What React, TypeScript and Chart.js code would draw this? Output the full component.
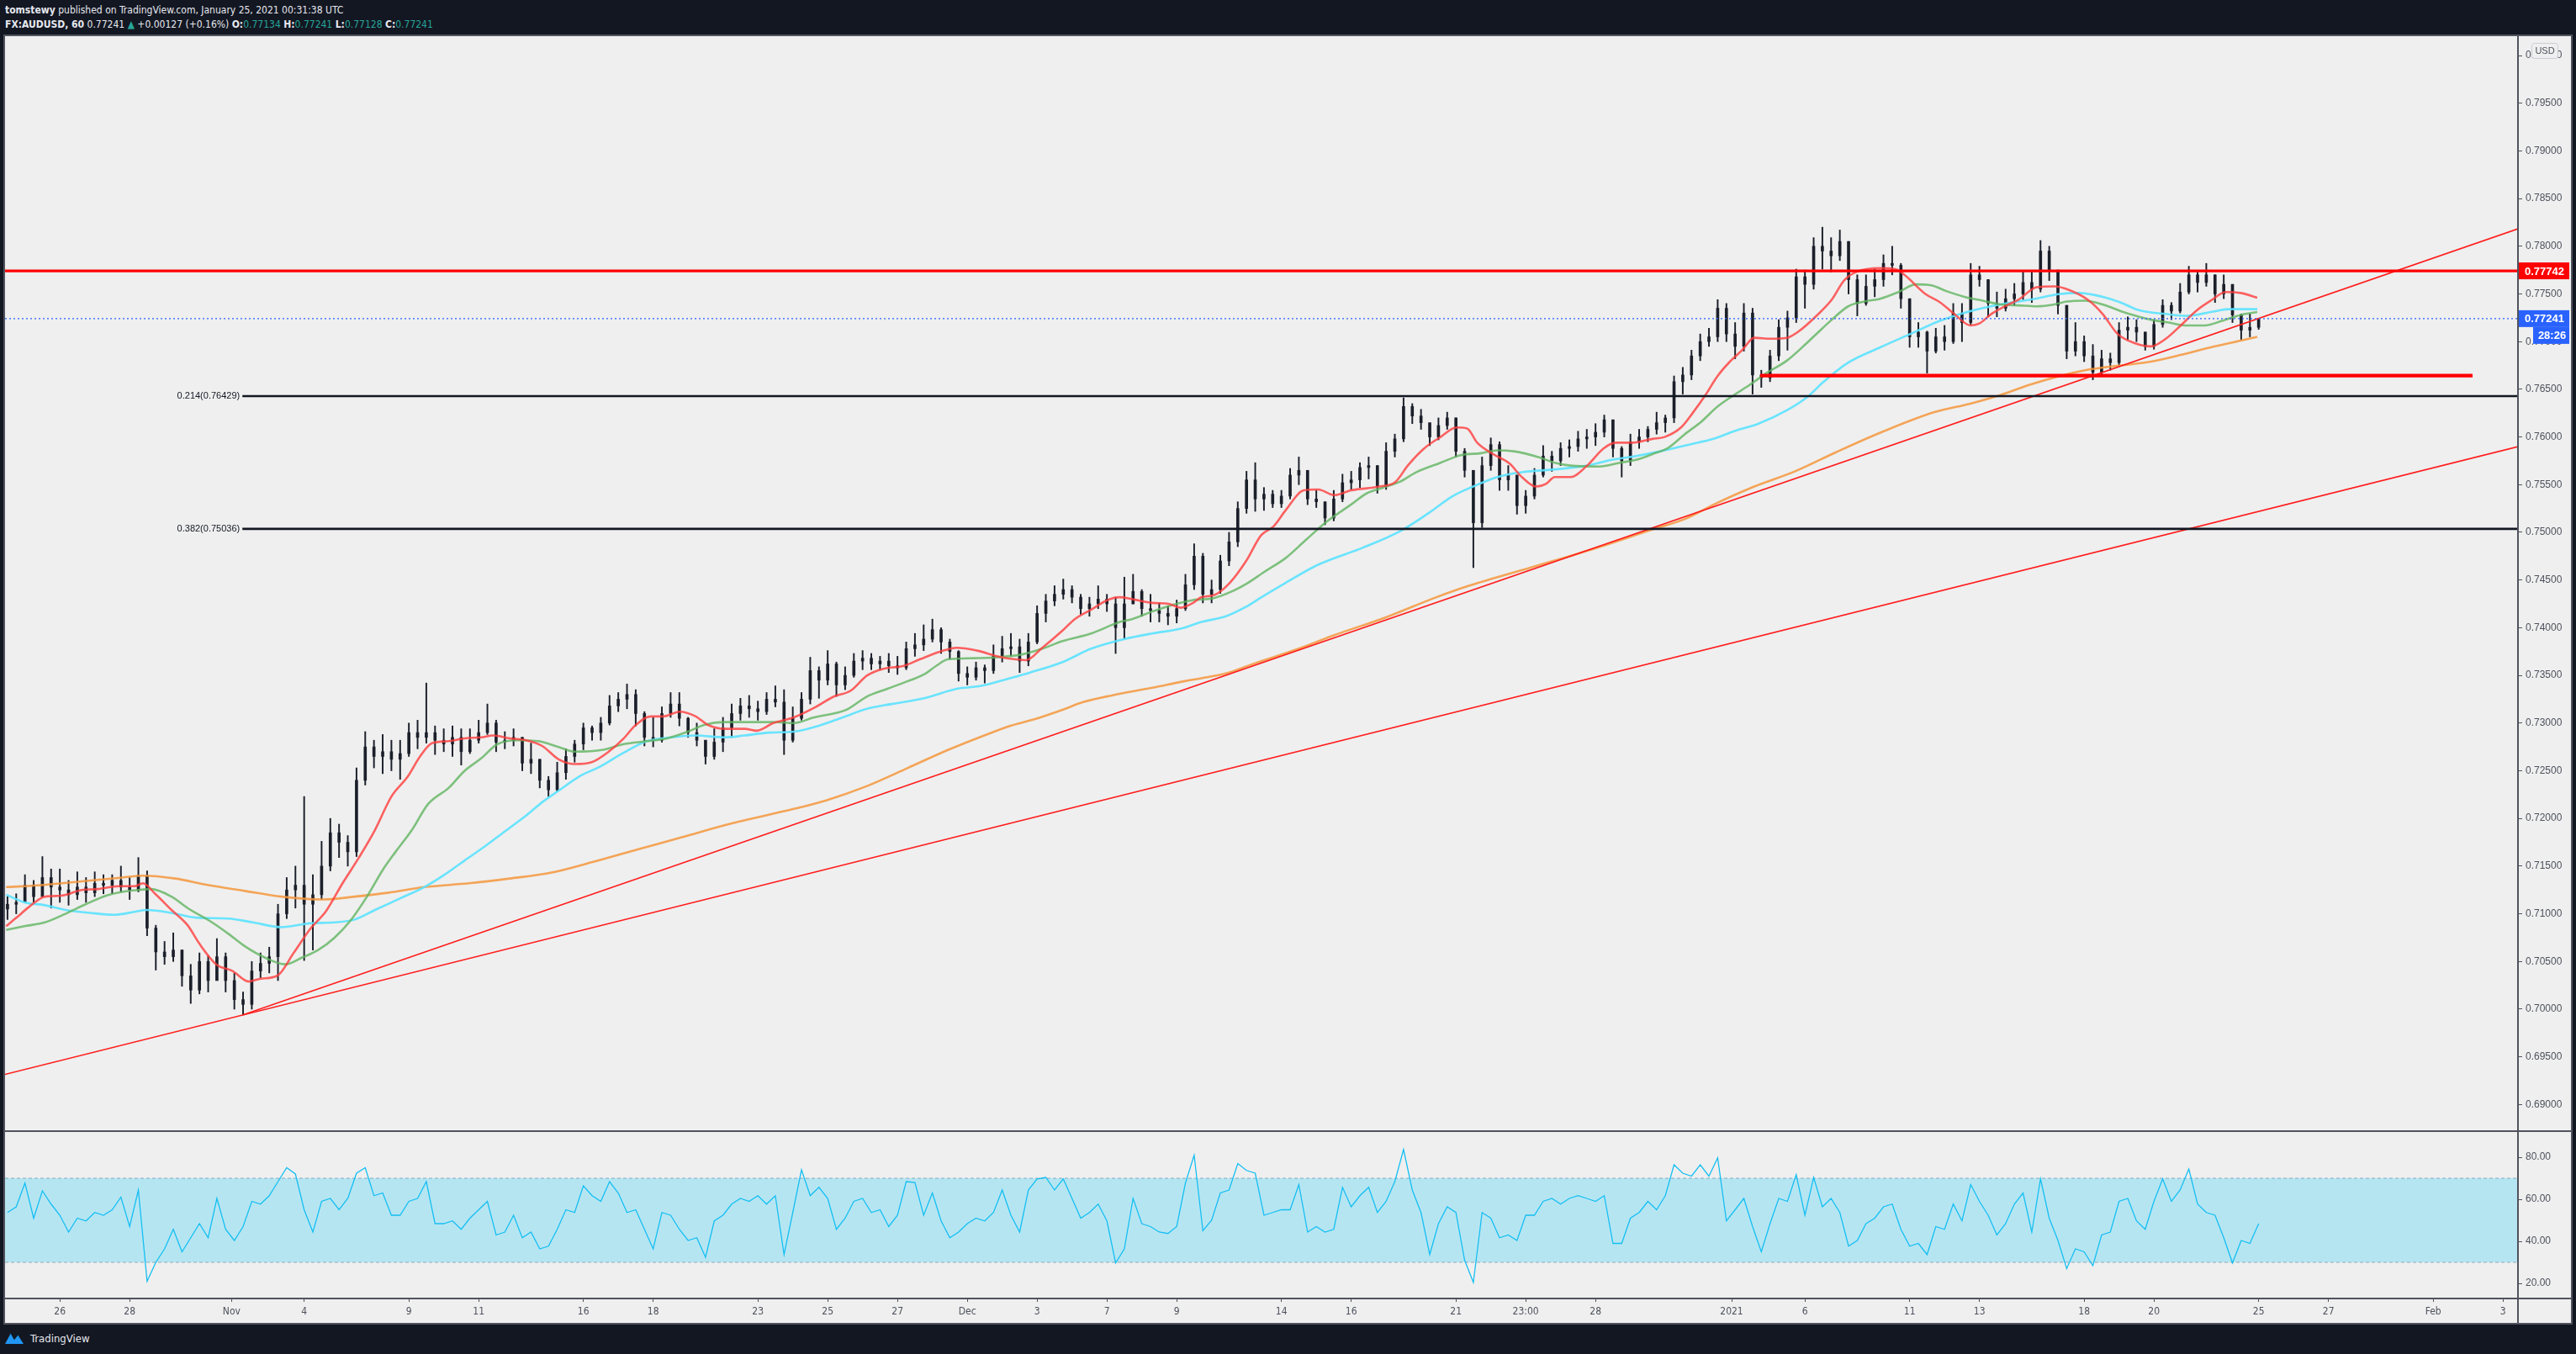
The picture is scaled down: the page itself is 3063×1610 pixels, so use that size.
import React, { useEffect, useRef } from "react";
import { Chart, registerables } from "chart.js";

Chart.register(...registerables);

// ---------- axis ranges (x in trading days from Mon 26 Oct 2020) ----------
const X_MIN = -1.57;
const X_MAX = 70.43;
const PRICE_MIN = 0.68721;
const PRICE_MAX = 0.80203;
const RSI_MIN = 12.8;
const RSI_MAX = 92.4;

// ---------- candles (6h bars) ----------
const BAR_START = -1.5;
const BAR_STEP = 0.25;
const FIRST_OPEN = 0.7105;

const BAR_HIGH = [
  .7118, .7121,
  .7141, .7135, .7160, .7147,
  .7147, .7135, .7144, .7138,
  .7144, .7141, .7141, .7150,
  .7138, .7159, .7145, .7088,
  .7071, .7080, .7062, .7047,
  .7059, .7056, .7074, .7059,
  .7038, .7018, .7050, .7059,
  .7065, .7110, .7138, .7150,
  .7223, .7141, .7176, .7200,
  .7194, .7182, .7253, .7291,
  .7282, .7288, .7282, .7282,
  .7300, .7303, .7342, .7297,
  .7294, .7297, .7294, .7294,
  .7303, .7320, .7303, .7291,
  .7294, .7285, .7279, .7262,
  .7244, .7259, .7273, .7282,
  .7300, .7297, .7306, .7329,
  .7332, .7341, .7335, .7312,
  .7306, .7317, .7332, .7332,
  .7306, .7300, .7282, .7294,
  .7306, .7320, .7326, .7329,
  .7323, .7332, .7339, .7335,
  .7317, .7332, .7369, .7359,
  .7376, .7364, .7359, .7373,
  .7376, .7373, .7370, .7373,
  .7370, .7385, .7394, .7403,
  .7409, .7400, .7388, .7376,
  .7359, .7364, .7361, .7382,
  .7391, .7394, .7388, .7394,
  .7423, .7435, .7444, .7451,
  .7444, .7435, .7432, .7444,
  .7435, .7432, .7453, .7456,
  .7440, .7435, .7426, .7423,
  .7429, .7456, .7488, .7478,
  .7450, .7476, .7500, .7532,
  .7564, .7573, .7547, .7544,
  .7544, .7567, .7579, .7565,
  .7544, .7532, .7544, .7561,
  .7564, .7573, .7579, .7570,
  .7594, .7603, .7641, .7635,
  .7629, .7614, .7620, .7626,
  .7620, .7588, .7565, .7579,
  .7599, .7595, .7570, .7560,
  .7544, .7567, .7591, .7585,
  .7594, .7597, .7606, .7608,
  .7614, .7623, .7618, .7590,
  .7603, .7608, .7611, .7626,
  .7623, .7664, .7673, .7691,
  .7708, .7714, .7744, .7740,
  .7720, .7740, .7735, .7670,
  .7691, .7723, .7732, .7776,
  .7775, .7809, .7820, .7809,
  .7817, .7805, .7770, .7770,
  .7776, .7791, .7800, .7782,
  .7745, .7720, .7711, .7714,
  .7717, .7740, .7740, .7782,
  .7779, .7765, .7752, .7755,
  .7761, .7773, .7773, .7806,
  .7800, .7775, .7738, .7720,
  .7706, .7697, .7691, .7688,
  .7720, .7726, .7723, .7710,
  .7723, .7744, .7741, .7761,
  .7779, .7773, .7782, .7770,
  .7770, .7760, .7729, .7729,
  .77241,
];

const BAR_LOW = [
  .7094, .7100,
  .7112, .7112, .7118, .7106,
  .7112, .7109, .7115, .7112,
  .7118, .7121, .7121, .7123,
  .7115, .7123, .7077, .7041,
  .7047, .7050, .7024, .7006,
  .7016, .7018, .7033, .7018,
  .7000, .6994, .7000, .7033,
  .7038, .7030, .7095, .7106,
  .7051, .7062, .7115, .7145,
  .7159, .7150, .7160, .7235,
  .7253, .7247, .7250, .7241,
  .7265, .7273, .7279, .7267,
  .7270, .7265, .7256, .7268,
  .7279, .7288, .7270, .7273,
  .7276, .7250, .7247, .7232,
  .7223, .7228, .7241, .7259,
  .7272, .7282, .7282, .7298,
  .7312, .7315, .7297, .7276,
  .7275, .7280, .7306, .7297,
  .7285, .7276, .7257, .7262,
  .7270, .7285, .7303, .7306,
  .7303, .7309, .7317, .7267,
  .7280, .7303, .7320, .7326,
  .7340, .7328, .7335, .7348,
  .7356, .7356, .7356, .7353,
  .7351, .7356, .7370, .7376,
  .7385, .7373, .7367, .7344,
  .7340, .7345, .7342, .7352,
  .7364, .7370, .7353, .7360,
  .7383, .7406, .7423, .7430,
  .7426, .7414, .7412, .7420,
  .7417, .7373, .7388, .7425,
  .7412, .7406, .7406, .7403,
  .7405, .7418, .7440, .7426,
  .7426, .7436, .7465, .7485,
  .7520, .7522, .7523, .7526,
  .7526, .7535, .7550, .7529,
  .7526, .7508, .7512, .7532,
  .7545, .7547, .7556, .7541,
  .7545, .7579, .7595, .7614,
  .7608, .7591, .7597, .7608,
  .7579, .7558, .7463, .7505,
  .7565, .7544, .7544, .7519,
  .7520, .7535, .7558, .7564,
  .7570, .7579, .7585, .7588,
  .7591, .7600, .7579, .7558,
  .7570, .7588, .7595, .7603,
  .7605, .7615, .7645, .7660,
  .7680, .7695, .7700, .7700,
  .7682, .7690, .7645, .7652,
  .7658, .7680, .7691, .7720,
  .7735, .7755, .7776, .7773,
  .7785, .7750, .7727, .7738,
  .7747, .7758, .7770, .7735,
  .7694, .7694, .7667, .7688,
  .7691, .7698, .7700, .7718,
  .7758, .7726, .7726, .7732,
  .7738, .7744, .7741, .7752,
  .7764, .7729, .7682, .7685,
  .7679, .7660, .7665, .7670,
  .7675, .7702, .7700, .7691,
  .7692, .7715, .7723, .7730,
  .7750, .7752, .7758, .7741,
  .7745, .7720, .7702, .7705,
  .77128,
];

const BAR_CLOSE = [
  .7110, .7112,
  .7130, .7118, .7138, .7128,
  .7125, .7120, .7128, .7122,
  .7132, .7130, .7135, .7128,
  .7125, .7140, .7085, .7060,
  .7055, .7062, .7035, .7020,
  .7050, .7030, .7055, .7030,
  .7010, .7005, .7040, .7048,
  .7055, .7100, .7125, .7130,
  .7110, .7120, .7150, .7185,
  .7175, .7165, .7240, .7275,
  .7265, .7270, .7262, .7268,
  .7290, .7285, .7290, .7282,
  .7278, .7285, .7270, .7282,
  .7290, .7300, .7280, .7282,
  .7285, .7258, .7262, .7240,
  .7230, .7248, .7265, .7278,
  .7295, .7290, .7300, .7318,
  .7325, .7330, .7310, .7285,
  .7282, .7310, .7320, .7305,
  .7290, .7282, .7265, .7280,
  .7295, .7310, .7318, .7315,
  .7312, .7325, .7322, .7282,
  .7305, .7325, .7355, .7345,
  .7362, .7340, .7350, .7365,
  .7368, .7362, .7365, .7360,
  .7358, .7378, .7382, .7388,
  .7398, .7385, .7375, .7352,
  .7348, .7358, .7355, .7370,
  .7378, .7380, .7365, .7385,
  .7415, .7428, .7435, .7440,
  .7432, .7420, .7425, .7430,
  .7425, .7400, .7425, .7438,
  .7420, .7418, .7415, .7412,
  .7420, .7445, .7475, .7435,
  .7440, .7470, .7490, .7525,
  .7555, .7535, .7540, .7530,
  .7538, .7560, .7565, .7535,
  .7532, .7515, .7535, .7552,
  .7555, .7568, .7570, .7548,
  .7585, .7598, .7632, .7622,
  .7615, .7600, .7612, .7620,
  .7585, .7565, .7510, .7570,
  .7592, .7555, .7560, .7528,
  .7538, .7560, .7580, .7575,
  .7588, .7590, .7598, .7600,
  .7605, .7618, .7588, .7575,
  .7595, .7600, .7608, .7615,
  .7620, .7658, .7665, .7685,
  .7700, .7705, .7735, .7708,
  .7695, .7730, .7665, .7662,
  .7685, .7715, .7725, .7768,
  .7760, .7800, .7795, .7790,
  .7805, .7765, .7740, .7758,
  .7765, .7782, .7780, .7745,
  .7705, .7710, .7690, .7705,
  .7700, .7730, .7720, .7770,
  .7765, .7740, .7735, .7745,
  .7750, .7762, .7755, .7795,
  .7775, .7738, .7690, .7700,
  .7685, .7668, .7682, .7678,
  .7712, .7715, .7710, .7695,
  .7718, .7738, .7732, .7752,
  .7770, .7762, .7770, .7750,
  .7760, .7728, .7712, .7715,
  .77241,
];

// ---------- RSI (same 6h bars) ----------
const RSI_VALUES = [
  53.7, 56.4,
  67.7, 51, 64, 57.7,
  52.4, 44.4, 51, 49.7,
  53.7, 52.4, 55, 61,
  47, 64.4, 21, 30,
  36.4, 45.7, 35, 41.7,
  48.4, 41.7, 60.4, 45.7,
  40.4, 47, 59, 57.7,
  61.7, 68.4, 75, 72,
  55, 44.4, 59, 60.4,
  55, 60.4, 72.4, 75,
  61.7, 63, 52.4, 52.4,
  59, 60.4, 68.4, 48.4,
  48.4, 49.7, 45.7, 51,
  55, 59, 43, 44.4,
  52.4, 41.7, 44.4, 36.4,
  37.7, 45.7, 55, 53.7,
  66.4, 61.7, 59, 68.4,
  63, 53.7, 55, 45.7,
  36.4, 53.7, 52.4, 45.7,
  40.4, 41.7, 32.4, 49.7,
  52.4, 57.7, 60.4, 59,
  61.7, 57.7, 61.7, 33.7,
  53.7, 74, 61.7, 65.7,
  60.4, 45.7, 51, 59,
  60.4, 53.7, 55, 47,
  52.4, 68.4, 68, 52.4,
  63, 49.7, 41.7, 44.4,
  48.4, 51, 49.7, 53.7,
  64.4, 52.4, 44.4, 64.4,
  69.7, 70.4, 64.4, 69.7,
  60.4, 51, 53.7, 57.7,
  49.7, 29.7, 36.4, 60.4,
  48.4, 47, 44.4, 43.7,
  47, 67.7, 81, 45,
  50, 63, 64.4, 77,
  73.7, 72.4, 52.4, 53.7,
  55, 55, 67, 44.4,
  47, 44.4, 45.7, 65.7,
  56.4, 61.7, 65.7, 53.7,
  59, 68.4, 83.7, 64.4,
  53.7, 33.7, 48.4, 56.4,
  53.7, 31, 20.4, 53.7,
  51, 41.7, 43, 40.4,
  52.4, 52.4, 59, 60.4,
  57.7, 60.4, 61.7, 60.4,
  59, 61.7, 39, 39,
  51, 53.7, 59, 55,
  61.7, 76.4, 72.4, 71,
  76.4, 71, 79.7, 49.7,
  55, 60.4, 47, 35,
  48.4, 60.4, 59, 71.7,
  52.4, 70.4, 56.4, 60.4,
  53.7, 37.7, 40.4, 48.4,
  51, 56.4, 57.7, 45.7,
  37.7, 39, 33.7, 47,
  45.7, 57.7, 49.7, 67,
  59, 52.4, 43, 48.4,
  57.7, 63, 44.4, 69.7,
  51, 40.4, 27, 36.4,
  35, 28.4, 43, 44.4,
  59, 60.4, 49.7, 45.7,
  59, 69.7, 59, 64.4,
  74.4, 57.7, 53.7, 52.4,
  41.7, 29.7, 40.4, 39,
  48.4,
];
const RSI_UPPER = 70;
const RSI_LOWER = 30;

// ---------- moving averages [day, price] ----------
const MA_FAST = [
  [-1.54, .7087], [-1.24, .7096], [-0.89, .7107], [-0.43, .7118], [0.04, .7119], [0.63, .7125],
  [1.09, .7126], [1.68, .7129], [2.14, .7129], [2.38, .7132], [2.73, .7121], [3.20, .7104],
  [3.66, .7088], [4.01, .7068], [4.48, .7047], [4.95, .7040], [5.41, .7029], [5.76, .7032],
  [6.23, .7035], [6.70, .7059], [7.17, .7084], [7.63, .7103], [8.10, .7132], [8.57, .7159],
  [9.03, .7188], [9.50, .7223], [9.97, .7244], [10.32, .7265], [10.67, .7279], [11.14, .7281],
  [11.60, .7284], [12.07, .7285], [12.42, .7287], [12.89, .7284], [13.36, .7282], [13.82, .7276],
  [14.29, .7262], [14.76, .7257], [15.24, .7259], [15.69, .7269], [16.16, .7284], [16.47, .7297],
  [16.94, .7307], [17.29, .7307], [17.76, .7312], [18.22, .7307], [18.57, .7298], [19.04, .7294],
  [19.62, .7294], [19.97, .7292], [20.44, .7300], [21.03, .7306], [21.61, .7316], [22.19, .7328],
  [22.66, .7334], [23.13, .7350], [23.60, .7357], [24.18, .7360], [24.65, .7367], [25.23, .7375],
  [25.70, .7379], [26.28, .7376], [26.87, .7370], [27.33, .7367], [27.68, .7366], [28.15, .7379],
  [28.73, .7397], [29.08, .7409], [29.55, .7419], [30.02, .7429], [30.37, .7432], [30.72, .7430],
  [31.30, .7426], [31.77, .7425], [32.12, .7421], [32.47, .7426], [32.71, .7432], [33.06, .7434],
  [33.52, .7447], [33.99, .7470], [34.42, .7497], [34.77, .7506], [35.12, .7523], [35.64, .7544],
  [36.05, .7545], [36.52, .7539], [36.99, .7544], [37.80, .7548], [38.27, .7553], [38.62, .7570],
  [39.09, .7588], [39.56, .7600], [40.02, .7610], [40.32, .7609], [40.61, .7594], [41.07, .7582],
  [41.54, .7572], [41.89, .7558], [42.30, .7548], [42.59, .7551], [42.83, .7558], [43.29, .7558],
  [43.76, .7570], [44.23, .7588], [44.58, .7594], [45.05, .7594], [45.63, .7598], [45.98, .7600],
  [46.45, .7610], [46.80, .7626], [47.15, .7644], [47.50, .7664], [47.85, .7679], [48.20, .7691],
  [48.55, .7704], [49.02, .7703], [49.48, .7704], [49.83, .7711], [50.30, .7726], [50.77, .7744],
  [51.12, .7764], [51.47, .7773], [52.16, .7777], [52.59, .7776], [52.85, .7770], [53.45, .7750],
  [53.88, .7741], [54.31, .7728], [54.74, .7717], [55.00, .7719], [55.34, .7729], [55.78, .7738],
  [56.12, .7744], [56.64, .7757], [57.15, .7758], [57.58, .7754], [58.10, .7744], [58.53, .7729],
  [58.96, .7708], [59.48, .7698], [59.91, .7695], [60.34, .7703], [60.77, .7717], [61.20, .7732],
  [61.63, .7743], [62.06, .7752], [62.49, .7751], [62.96, .7746],
];

const MA_MID = [
  [-1.54, .7083], [-1.01, .7087], [-0.43, .7091], [0.16, .7100], [0.74, .7110], [1.33, .7119],
  [1.79, .7123], [2.26, .7125], [2.61, .7126], [3.20, .7118], [3.66, .7106], [4.36, .7091],
  [4.83, .7079], [5.30, .7066], [5.88, .7054], [6.46, .7047], [6.93, .7054], [7.40, .7062],
  [7.87, .7075], [8.33, .7093], [8.80, .7118], [9.27, .7147], [9.62, .7165], [10.09, .7188],
  [10.55, .7215], [11.14, .7232], [11.60, .7250], [12.07, .7263], [12.54, .7278], [13.12, .7282],
  [13.71, .7281], [14.29, .7275], [14.76, .7270], [15.57, .7272], [16.16, .7278], [16.82, .7281],
  [17.40, .7284], [17.99, .7291], [18.46, .7298], [19.04, .7301], [19.62, .7301], [20.56, .7301],
  [21.03, .7300], [21.61, .7306], [22.54, .7314], [23.13, .7328], [23.71, .7336], [24.30, .7344],
  [24.76, .7351], [25.11, .7360], [25.46, .7367], [26.16, .7368], [26.87, .7369], [27.57, .7372],
  [28.15, .7378], [28.73, .7386], [29.55, .7394], [30.37, .7406], [30.72, .7409], [31.30, .7417],
  [31.89, .7424], [32.47, .7429], [33.06, .7431], [33.64, .7439], [34.00, .7446], [34.53, .7459],
  [35.12, .7473], [35.70, .7492], [36.29, .7511], [36.99, .7529], [37.45, .7541], [37.92, .7547],
  [38.39, .7553], [38.86, .7563], [39.56, .7573], [40.14, .7581], [40.72, .7583], [41.19, .7586],
  [41.66, .7585], [42.36, .7579], [42.83, .7573], [43.29, .7570], [44.11, .7569], [44.70, .7573],
  [45.16, .7576], [45.63, .7582], [46.10, .7589], [46.56, .7603], [47.03, .7616], [47.50, .7632],
  [47.97, .7644], [48.43, .7655], [48.90, .7667], [49.48, .7680], [49.95, .7695], [50.30, .7707],
  [50.77, .7723], [51.24, .7737], [51.70, .7742], [52.16, .7745], [52.68, .7752], [53.19, .7760],
  [53.62, .7759], [54.05, .7753], [54.57, .7747], [55.09, .7743], [55.60, .7739], [56.12, .7738],
  [56.64, .7737], [57.15, .7739], [57.50, .7742], [58.01, .7743], [58.53, .7739], [59.05, .7732],
  [59.48, .7727], [59.91, .7723], [60.42, .7720], [60.94, .7717], [61.46, .7717], [61.97, .7722],
  [62.49, .7728], [62.96, .7731],
];

const MA_SLOW = [
  [-1.54, .7120], [-1.01, .7112], [-0.43, .7109], [0.16, .7104], [0.86, .7101], [1.56, .7099],
  [2.14, .7102], [2.49, .7104], [3.20, .7101], [3.90, .7096], [4.83, .7095], [5.53, .7091],
  [6.35, .7086], [7.17, .7090], [7.87, .7091], [8.45, .7094], [9.03, .7104], [9.74, .7116],
  [10.44, .7128], [11.02, .7141], [11.60, .7156], [12.19, .7171], [12.77, .7187], [13.36, .7203],
  [13.82, .7217], [14.29, .7229], [14.88, .7244], [15.46, .7254], [16.16, .7269], [16.82, .7281],
  [17.52, .7285], [18.22, .7287], [19.04, .7285], [19.62, .7287], [20.32, .7290], [21.03, .7291],
  [21.73, .7297], [22.43, .7306], [23.13, .7315], [23.83, .7320], [24.76, .7326], [25.70, .7336],
  [26.40, .7339], [27.22, .7347], [27.80, .7353], [28.73, .7364], [29.55, .7378], [30.49, .7388],
  [31.30, .7394], [32.12, .7399], [32.71, .7406], [33.41, .7412], [33.99, .7422], [34.43, .7432],
  [35.12, .7447], [36.05, .7466], [37.34, .7484], [38.39, .7501], [39.21, .7520], [39.91, .7538],
  [40.49, .7548], [41.19, .7558], [41.89, .7563], [42.83, .7566], [43.76, .7570], [44.46, .7576],
  [45.16, .7580], [45.86, .7585], [46.68, .7592], [47.38, .7598], [47.97, .7606], [48.67, .7614],
  [49.48, .7628], [50.07, .7642], [50.54, .7658], [51.24, .7678], [52.16, .7694], [53.02, .7708],
  [53.88, .7722], [54.74, .7732], [55.60, .7739], [56.46, .7744], [57.32, .7750], [57.84, .7751],
  [58.53, .7747], [59.05, .7741], [59.56, .7733], [60.34, .7729], [60.94, .7727], [61.63, .7731],
  [62.14, .7734], [62.96, .7734],
];

const MA_LONG = [
  [-1.54, .7128], [-0.54, .7130], [0.63, .7134], [1.79, .7138], [2.38, .7140], [3.31, .7137],
  [4.13, .7131], [5.30, .7124], [6.35, .7118], [7.52, .7115], [8.45, .7118], [9.39, .7122],
  [10.44, .7128], [11.72, .7132], [12.89, .7137], [14.06, .7143], [15.24, .7154], [16.60, .7168],
  [17.80, .7180], [19.16, .7194], [21.03, .7210], [21.96, .7219], [23.13, .7234], [24.30, .7253],
  [25.46, .7272], [26.63, .7289], [27.22, .7297], [27.92, .7304], [28.73, .7314], [29.32, .7322],
  [30.14, .7329], [31.30, .7337], [32.24, .7344], [32.71, .7347], [33.41, .7352], [34.11, .7361],
  [34.43, .7365], [35.50, .7378], [36.50, .7392], [38.00, .7411], [39.44, .7432], [40.37, .7444],
  [42.13, .7463], [43.88, .7482], [45.63, .7503], [46.56, .7514], [47.38, .7529], [48.55, .7548],
  [49.72, .7564], [50.89, .7584], [52.26, .7606], [53.71, .7626], [54.74, .7635], [55.60, .7644],
  [56.46, .7655], [57.32, .7664], [58.18, .7671], [59.05, .7675], [59.91, .7679], [60.77, .7686],
  [61.63, .7694], [62.49, .7701], [62.96, .7705],
];

// ---------- drawings ----------
const RESISTANCE = 0.77742;
const SUPPORT = 0.76643;
const SUPPORT_FROM = 48.72;
const SUPPORT_TO = 69.13;
const LAST_PRICE = 0.77241;
const COUNTDOWN = "28:26";
const FIB_START = 5.23;
const FIB_RATIOS = ["0.214", "0.382"];
const FIB_LEVELS = [0.76429, 0.75036];
const TREND_UPPER = [[5.23, 0.69938], [70.43, 0.78183]];
const TREND_LOWER = [[-1.57, 0.69316], [70.43, 0.75899]];

// ---------- ticks ----------
const PRICE_TICKS = [
  0.690, 0.695, 0.700, 0.705, 0.710, 0.715, 0.720, 0.725, 0.730, 0.735, 0.740, 0.745,
  0.750, 0.755, 0.760, 0.765, 0.770, 0.775, 0.780, 0.785, 0.790, 0.795, 0.800,
];
const RSI_TICKS = [20, 40, 60, 80];
const DATE_TICK_POS = [
  0, 2, 4.92, 7, 10, 12, 15, 17, 20, 22, 24, 26, 28, 30, 32, 35, 37, 40, 42, 44,
  47.9, 50, 53, 55, 58, 60, 63, 65, 68, 70,
];
const DATE_TICK_LABELS = [
  "26", "28", "Nov", "4", "9", "11", "16", "18", "23", "25", "27", "Dec", "3", "7", "9",
  "14", "16", "21", "23:00", "28", "2021", "6", "11", "13", "18", "20", "25", "27", "Feb", "3",
];

// ---------- layout constants ----------
const W = 3063;
const H = 1610;
const FRAME_L = 6;
const FRAME_T = 43;
const FRAME_W = 3051;
const MAIN_H = 1302;
const RSI_TOP = 1345;
const RSI_H = 228;
const AXIS_W = 63;
const TIME_AXIS_H = 29;

const AXIS_TEXT = "#4e525d";
const LINE_GRAY = "#50535e";
const NARROW = '"Liberation Sans Narrow", "DejaVu Sans Condensed", "Liberation Sans", sans-serif';

function barTime(i: number) {
  return BAR_START + i * BAR_STEP;
}

function pairs(list: number[][]) {
  return list.map(([x, y]) => ({ x, y }));
}

function noVerticalPadding(s: any) {
  s.paddingTop = 0;
  s.paddingBottom = 0;
}

const overlayPlugin = {
  id: "overlay",
  afterDraw(chart: any) {
    const { ctx, chartArea, scales } = chart;
    const xs = scales.x;
    const ys = scales.y;
    ctx.save();
    // fib labels
    ctx.font = '11px "Liberation Sans", Arial, sans-serif';
    ctx.fillStyle = "#131722";
    ctx.textAlign = "right";
    ctx.textBaseline = "middle";
    FIB_LEVELS.forEach((lv, k) => {
      ctx.fillText(`${FIB_RATIOS[k]}(${lv.toFixed(5)})`, xs.getPixelForValue(FIB_START) - 3, ys.getPixelForValue(lv));
    });
    // price labels on axis
    const left = chartArea.right;
    const boxW = 61;
    const drawBox = (y: number, color: string, text: string, x0: number, w: number) => {
      ctx.fillStyle = color;
      ctx.fillRect(x0, y - 10, w, 20);
      ctx.fillStyle = "#ffffff";
      ctx.font = 'bold 13px "Liberation Sans", Arial, sans-serif';
      ctx.textAlign = "center";
      ctx.textBaseline = "middle";
      ctx.fillText(text, x0 + w / 2 + 1, y + 1);
    };
    const ry = ys.getPixelForValue(RESISTANCE);
    drawBox(ry, "#ff0000", RESISTANCE.toFixed(5), left, boxW);
    const by = ys.getPixelForValue(LAST_PRICE);
    drawBox(by, "#2962ff", LAST_PRICE.toFixed(5), left, boxW);
    drawBox(by + 20, "#2962ff", COUNTDOWN, left + 18, boxW - 18);
    // currency box
    ctx.fillStyle = "#efefef";
    ctx.strokeStyle = "#c9ccd4";
    ctx.lineWidth = 1;
    const ux = left + 16;
    const uy = 8;
    ctx.beginPath();
    if (ctx.roundRect) ctx.roundRect(ux + 0.5, uy + 0.5, 31, 18, 3);
    else ctx.rect(ux + 0.5, uy + 0.5, 31, 18);
    ctx.fill();
    ctx.stroke();
    ctx.fillStyle = AXIS_TEXT;
    ctx.font = '11px "Liberation Sans", Arial, sans-serif';
    ctx.textAlign = "center";
    ctx.textBaseline = "middle";
    ctx.fillText("USD", ux + 16, uy + 10);
    ctx.restore();
  },
};

function MainChart() {
  const ref = useRef<HTMLCanvasElement | null>(null);
  useEffect(() => {
    if (!ref.current) return;
    const wicks = BAR_CLOSE.map((c, i) => ({ x: barTime(i), y: [BAR_LOW[i], BAR_HIGH[i]] }));
    const bodies = BAR_CLOSE.map((c, i) => {
      const o = i === 0 ? FIRST_OPEN : BAR_CLOSE[i - 1];
      return { x: barTime(i), y: [o, c] };
    });
    const line = (data: any[], color: string, width: number, order: number, extra: any = {}) => ({
      type: "line",
      data,
      borderColor: color,
      borderWidth: width,
      pointRadius: 0,
      fill: false,
      order,
      ...extra,
    });
    const chart = new Chart(ref.current, {
      type: "line",
      data: {
        datasets: [
          {
            type: "bar",
            data: wicks,
            backgroundColor: "#1b1f2a",
            borderWidth: 0,
            barThickness: 1.3,
            grouped: false,
            order: 30,
          } as any,
          {
            type: "bar",
            data: bodies,
            backgroundColor: "#1b1f2a",
            borderWidth: 0,
            barThickness: 3,
            minBarLength: 1,
            grouped: false,
            order: 29,
          } as any,
          line(pairs(MA_LONG), "rgba(245,150,60,0.85)", 2.6, 20, { cubicInterpolationMode: "monotone" }),
          line(pairs(MA_SLOW), "rgba(90,226,255,0.9)", 2.6, 19, { cubicInterpolationMode: "monotone" }),
          line(pairs(MA_MID), "rgba(96,180,96,0.8)", 2.6, 18, { cubicInterpolationMode: "monotone" }),
          line(pairs(MA_FAST), "rgba(255,60,60,0.8)", 2.6, 17, { cubicInterpolationMode: "monotone" }),
          line(pairs(TREND_UPPER), "#ff1f1f", 1.6, 10),
          line(pairs(TREND_LOWER), "#ff1f1f", 1.6, 10),
          ...FIB_LEVELS.map((lv) =>
            line([{ x: FIB_START, y: lv }, { x: X_MAX, y: lv }], "#131722", 2.6, 8)
          ),
          line([{ x: X_MIN, y: LAST_PRICE }, { x: X_MAX, y: LAST_PRICE }], "#2962ff", 1.2, 7, { borderDash: [2, 3] }),
          line([{ x: X_MIN, y: RESISTANCE }, { x: X_MAX, y: RESISTANCE }], "#ff0000", 3.2, 6),
          line([{ x: SUPPORT_FROM, y: SUPPORT }, { x: SUPPORT_TO, y: SUPPORT }], "#ff0000", 4.2, 5),
        ] as any,
      },
      options: {
        animation: false,
        responsive: false,
        maintainAspectRatio: false,
        devicePixelRatio: 1,
        events: [],
        layout: { padding: 0 },
        plugins: { legend: { display: false }, tooltip: { enabled: false } },
        scales: {
          x: {
            type: "linear",
            min: X_MIN,
            max: X_MAX,
            offset: false,
            display: false,
            grid: { display: false, offset: false },
          },
          y: {
            type: "linear",
            position: "right",
            min: PRICE_MIN,
            max: PRICE_MAX,
            afterFit: (s: any) => {
              s.width = AXIS_W;
              noVerticalPadding(s);
            },
            afterBuildTicks: (s: any) => {
              s.ticks = PRICE_TICKS.map((v) => ({ value: v }));
            },
            ticks: {
              callback: (v: any) => Number(v).toFixed(5),
              color: AXIS_TEXT,
              font: { family: '"Liberation Sans", Arial, sans-serif', size: 12 },
              padding: 4,
              autoSkip: false,
            },
            grid: { drawOnChartArea: false, drawTicks: true, tickLength: 5, color: LINE_GRAY },
            border: { display: false },
          },
        },
      } as any,
      plugins: [overlayPlugin],
    });
    return () => chart.destroy();
  }, []);
  return <canvas ref={ref} width={FRAME_W} height={MAIN_H} style={{ width: FRAME_W, height: MAIN_H, display: "block" }} />;
}

function RsiChart() {
  const ref = useRef<HTMLCanvasElement | null>(null);
  useEffect(() => {
    if (!ref.current) return;
    const rsi = RSI_VALUES.map((v, i) => ({ x: barTime(i), y: v }));
    const chart = new Chart(ref.current, {
      type: "line",
      data: {
        datasets: [
          {
            data: [{ x: X_MIN, y: RSI_UPPER }, { x: X_MAX, y: RSI_UPPER }],
            borderColor: "#92aab8",
            borderWidth: 1,
            borderDash: [4, 3],
            pointRadius: 0,
            fill: false,
            order: 5,
          },
          {
            data: [{ x: X_MIN, y: RSI_LOWER }, { x: X_MAX, y: RSI_LOWER }],
            borderColor: "#92aab8",
            borderWidth: 1,
            borderDash: [4, 3],
            pointRadius: 0,
            fill: "-1",
            backgroundColor: "rgba(10,200,250,0.25)",
            order: 4,
          },
          {
            data: rsi,
            borderColor: "#14bff2",
            borderWidth: 1.3,
            pointRadius: 0,
            fill: false,
            order: 1,
          },
        ] as any,
      },
      options: {
        animation: false,
        responsive: false,
        maintainAspectRatio: false,
        devicePixelRatio: 1,
        events: [],
        layout: { padding: 0 },
        plugins: { legend: { display: false }, tooltip: { enabled: false } },
        scales: {
          x: {
            type: "linear",
            position: "bottom",
            min: X_MIN,
            max: X_MAX,
            offset: false,
            afterFit: (s: any) => {
              s.height = TIME_AXIS_H;
              s.paddingLeft = 0;
              s.paddingRight = 0;
            },
            afterBuildTicks: (s: any) => {
              s.ticks = DATE_TICK_POS.map((v) => ({ value: v }));
            },
            ticks: {
              callback: (_v: any, idx: number) => DATE_TICK_LABELS[idx],
              color: AXIS_TEXT,
              font: { family: NARROW, size: 12 },
              padding: 5,
              autoSkip: false,
              maxRotation: 0,
              minRotation: 0,
            },
            grid: { drawOnChartArea: false, drawTicks: true, tickLength: 4, color: LINE_GRAY, offset: false },
            border: { display: false },
          },
          y: {
            type: "linear",
            position: "right",
            min: RSI_MIN,
            max: RSI_MAX,
            afterFit: (s: any) => {
              s.width = AXIS_W;
              noVerticalPadding(s);
            },
            afterBuildTicks: (s: any) => {
              s.ticks = RSI_TICKS.map((v) => ({ value: v }));
            },
            ticks: {
              callback: (v: any) => Number(v).toFixed(2),
              color: AXIS_TEXT,
              font: { family: '"Liberation Sans", Arial, sans-serif', size: 12 },
              padding: 4,
              autoSkip: false,
            },
            grid: { drawOnChartArea: false, drawTicks: true, tickLength: 5, color: LINE_GRAY },
            border: { display: false },
          },
        },
      } as any,
    });
    return () => chart.destroy();
  }, []);
  return <canvas ref={ref} width={FRAME_W} height={RSI_H} style={{ width: FRAME_W, height: RSI_H, display: "block" }} />;
}

const abs = (l: number, t: number, w: number, h: number, extra: any = {}) => ({
  position: "absolute" as const,
  left: l,
  top: t,
  width: w,
  height: h,
  ...extra,
});

export default function App() {
  const teal = "#26a69a";
  const headLine = { position: "absolute" as const, left: 6, color: "#e6e8ee", fontSize: 12, lineHeight: "15px", whiteSpace: "nowrap" as const };
  return (
    <div style={{ position: "relative", width: W, height: H, background: "#131722", overflow: "hidden", fontFamily: NARROW }}>
      <style>{`html,body{margin:0;padding:0;background:#131722;}`}</style>
      <div style={{ ...headLine, top: 5 }}>
        <b>tomstewy</b> published on TradingView.com, January 25, 2021 00:31:38 UTC
      </div>
      <div style={{ ...headLine, top: 22 }}>
        <b>FX:AUDUSD, 60</b> 0.77241 <span style={{ color: teal }}>▲</span> +0.00127 (+0.16%) <b>O:</b>
        <span style={{ color: teal }}>0.77134</span> <b>H:</b>
        <span style={{ color: teal }}>0.77241</span> <b>L:</b>
        <span style={{ color: teal }}>0.77128</span> <b>C:</b>
        <span style={{ color: teal }}>0.77241</span>
      </div>

      <div style={abs(FRAME_L - 2, FRAME_T - 2, FRAME_W + 4, 1534, { boxSizing: "border-box", border: `2px solid ${LINE_GRAY}`, background: "#efefef" })} />
      <div style={abs(FRAME_L, FRAME_T, FRAME_W, MAIN_H)}>
        <MainChart />
      </div>
      <div style={abs(FRAME_L, RSI_TOP, FRAME_W, RSI_H)}>
        <RsiChart />
      </div>
      <div style={abs(FRAME_L, RSI_TOP - 1, FRAME_W, 2, { background: LINE_GRAY })} />
      <div style={abs(FRAME_L, RSI_TOP + RSI_H - TIME_AXIS_H - 1, FRAME_W, 2, { background: LINE_GRAY })} />
      <div style={abs(FRAME_L + FRAME_W - AXIS_W - 1, FRAME_T, 2, 1530, { background: LINE_GRAY })} />

      <div style={{ position: "absolute", left: 5, top: 1583, display: "flex", alignItems: "center", color: "#e6e8ee", fontSize: 13 }}>
        <svg width="28" height="16" viewBox="0 0 28 16">
          <path d="M1 15 L8 2 L12 9 L16 4 L23 15 Z" fill="#2196f3" />
          <path d="M8 2 L12 9 L16 4" fill="none" stroke="#131722" strokeWidth="1.5" />
        </svg>
        <span style={{ marginLeft: 3 }}>TradingView</span>
      </div>
    </div>
  );
}
